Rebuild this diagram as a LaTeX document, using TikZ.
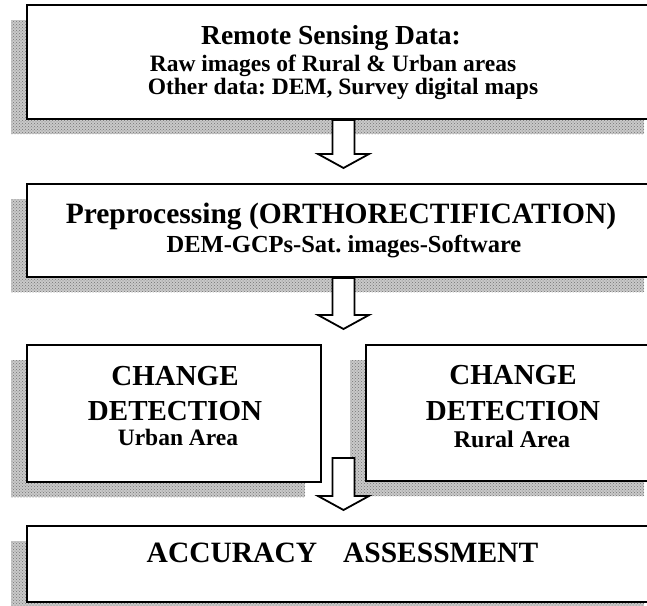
\documentclass[tikz,border=0pt]{standalone}
\usepackage{fontspec}
\setmainfont{Liberation Serif}
\usetikzlibrary{calc, shadows, patterns}
\frenchspacing

\begin{document}
\begin{tikzpicture}[
  x=1pt, y=-1pt,
  box/.style={draw=black, line width=2pt, fill=white, inner sep=0pt,
              drop shadow={shadow xshift=-16pt, shadow yshift=-15pt, opacity=1,
                           fill=gray!42,
                           postaction={pattern=crosshatch dots, pattern color=black!55}}},
  txt/.style={font=\bfseries\fontsize{#1}{#1}\selectfont, anchor=base, inner sep=0pt},
  % hollow block arrow, straight down from the start; the tip stops short of the target
  hollow/.style={draw=black, fill=white, line width=1.8pt, line join=miter,
    to path={let \p1=(\tikztostart), \p2=(\tikztotarget) in
      (\x1-11pt,\y1) -- (\x1+11pt,\y1) -- (\x1+11pt,\y2+29pt) -- (\x1+25.5pt,\y2+29pt)
      -- (\x1,\y2+15pt) -- (\x1-25.5pt,\y2+29pt) -- (\x1-11pt,\y2+29pt) -- cycle}},
]
\useasboundingbox (0,0) rectangle (647,605);
\clip (0,0) rectangle (647,605);

% ================================ the five boxes ===============================
\node[box, minimum width=633pt, minimum height=114pt] (data) at (343.5,62) {};
\node[txt=27.5] (dataA) at (331,44) {Remote Sensing Data:};
\node[txt=23.5] (dataB) at (333,71) {Raw images of Rural \& Urban areas};
\node[txt=23.5] (dataC) at (343,94) {Other data: DEM, Survey digital maps};

\node[box, minimum width=633pt, minimum height=93pt] (pre) at (343.5,230.5) {};
\node[txt=29.5] (preA) at (341,223) {Preprocessing (ORTHORECTIFICATION)};
\node[txt=24.5] (preB) at (344,252) {DEM-GCPs-Sat. images-Software};

% the two change detection boxes share a row
\node[box, minimum width=294pt, minimum height=137pt] (urban) at (174,413.5) {};
\node[txt=29] (urbanA) at (175,385) {CHANGE};
\node[txt=29] (urbanB) at (175,420) {DETECTION};
\node[txt=23.5] (urbanC) at (178,445) {Urban Area};

\node[box, minimum width=294pt, minimum height=136pt] (rural) at (513,413) {};
\node[txt=29] (ruralA) at (513,384) {CHANGE};
\node[txt=29] (ruralB) at (513,420) {DETECTION};
\node[txt=24] (ruralC) at (512,447) {Rural Area};

\node[box, minimum width=633pt, minimum height=76pt] (accuracy) at (343.5,564) {};
\node[txt=29.5] (accuracyA) at (342.5,562) {ACCURACY\hspace{26pt}ASSESSMENT};

% ================================ block arrows =================================
% The last arrow starts in the gap between the two detection boxes.
\coordinate (split) at (343.5,458);
\draw[hollow] (data.south) to (pre.north);
\draw[hollow] (pre.south) to (urban.north);
\draw[hollow] (split) to (accuracy.north);
\end{tikzpicture}
\end{document}
